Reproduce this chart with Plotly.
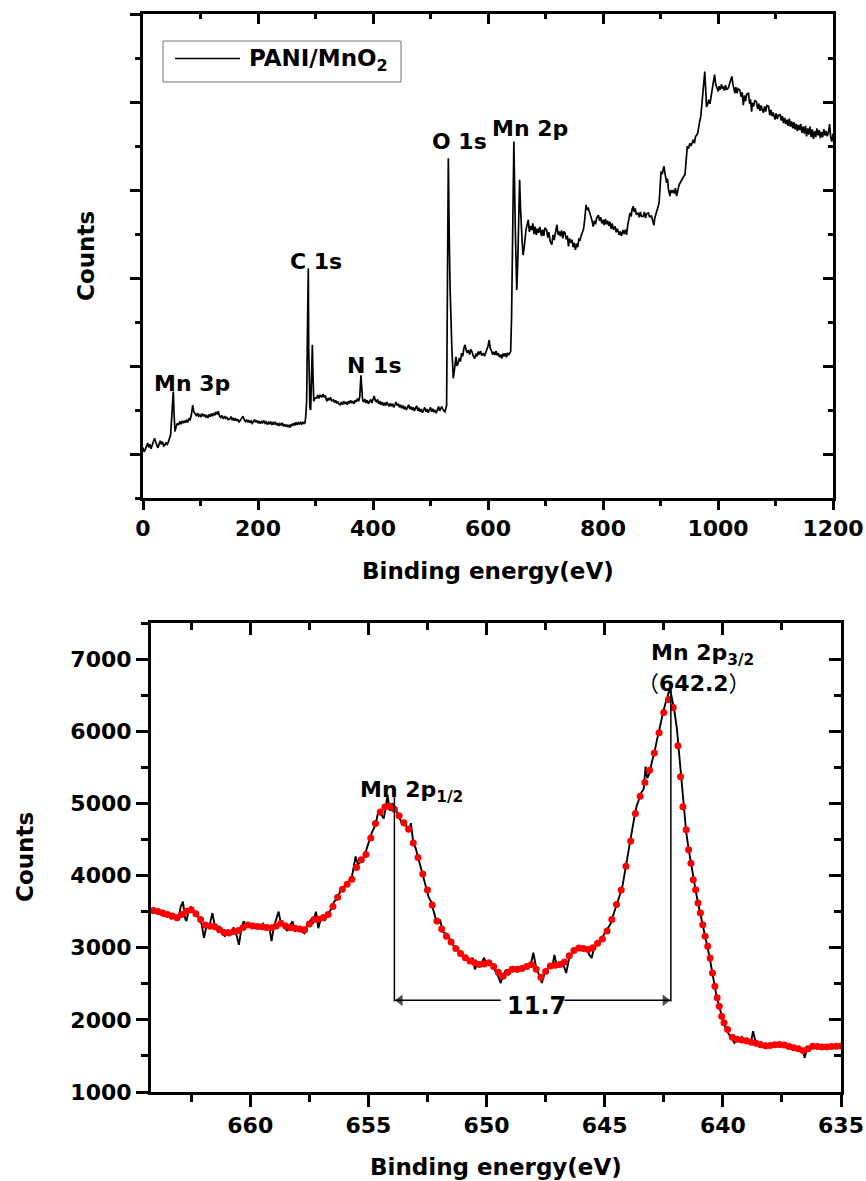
import plotly.graph_objects as go

# ---------------- survey spectrum (top panel), counts in arbitrary units ----------------
survey_ev = [
    0, 2, 4, 6, 8, 10, 12, 14, 16, 18,
    20, 22, 24, 26, 28, 30, 32, 34, 36, 38,
    40, 42, 44, 46, 48, 50, 52.7, 54, 55.6, 57.5,
    59.7, 62, 64, 66, 68, 70, 72, 74, 76, 78,
    80, 82, 84, 86.4, 88.5, 90.5, 93, 95, 97, 99,
    101, 103, 105, 107, 109, 111, 113, 115, 117, 119,
    121, 123, 125, 127, 129, 131, 133, 135, 137, 139.5,
    142, 144, 146, 148, 151, 153, 155, 157, 159, 161,
    163, 165, 167, 169, 171, 174, 176, 178, 180, 182,
    184, 186, 188, 190, 192, 194, 196, 198, 200, 202,
    204, 206, 208, 210, 212, 214, 216, 218, 220, 222,
    224, 226, 228, 230, 232, 234, 236, 238, 240, 242,
    244, 246, 248, 250, 252, 254, 256, 258, 260, 262,
    264, 266, 268, 270, 272, 274, 276, 278, 280, 281.7,
    283, 284.6, 286, 287.5, 288.2, 289, 290.3, 291.6, 293, 294.5,
    295.8, 297, 299, 302, 304, 306, 308, 311, 313, 315,
    317, 319.8, 322, 324, 326, 328, 331.4, 333, 335, 337,
    339, 341, 343, 345, 347, 349, 351, 353, 355, 357,
    359, 361, 363, 365, 367, 369, 371, 373, 375, 377,
    379, 380.5, 382, 384, 386, 388, 390, 392, 394, 396,
    398, 400, 402, 404, 406, 408, 410, 412, 414, 416,
    418, 420, 422, 424, 426, 428, 430, 432, 434, 436,
    438, 440, 442, 444, 446, 448, 450, 452, 454, 456,
    458, 460, 462, 464, 466, 468, 470, 472, 474, 476,
    478, 480, 482, 484, 486, 488, 490, 492, 494, 496,
    498, 500, 502, 504, 506, 508, 510, 512, 514, 516,
    519.4, 522, 525, 528, 529, 531, 532.5, 534, 537, 539.6,
    541.5, 544.3, 546, 548, 550, 552, 554, 556, 558, 560,
    562, 564, 566, 568, 570, 572, 574, 577, 579, 581,
    583, 585, 587, 589, 592, 594, 596, 598, 600, 602,
    604, 606.5, 608, 610, 612, 614, 616, 618, 620, 622,
    624, 626, 628, 630, 632, 634, 636, 638, 639.4, 641,
    643, 645, 647.5, 650, 652, 653.5, 655, 656.5, 658, 659.5,
    661, 663, 666, 668, 670, 672, 674, 676, 678, 680,
    682, 684, 686, 688, 690, 693, 695, 697, 699, 702,
    704, 706, 708, 711, 713, 715, 717, 719.8, 722, 724,
    725.6, 728, 730, 732, 734, 736, 738, 740, 742, 744,
    746, 748, 750, 752, 754, 756, 758, 760, 762, 764,
    766, 768, 770.5, 772, 774, 777, 779, 781, 783, 785,
    787, 789, 792, 794, 796, 798, 800.5, 802, 804, 806,
    808, 810, 812, 814, 816, 818, 821, 823, 825, 828,
    830, 832, 835, 837, 839, 841, 843, 845, 847, 849,
    850.5, 852.6, 854, 856, 858, 861, 863, 865, 867, 870,
    872, 874, 876, 879, 881, 884, 886, 888.6, 890, 893,
    895, 897.5, 899, 901, 903, 904.5, 906, 908, 910.7, 912,
    914, 916.5, 918, 920, 922, 924, 926, 928, 930, 932,
    934, 936, 938, 940, 942.6, 944, 946.6, 949, 951, 953,
    955, 957, 959, 961, 963, 965, 967, 970, 972, 973,
    975, 977, 978.5, 980, 982, 984, 986, 987, 989, 991,
    992.5, 994, 996, 998, 1000.5, 1002, 1004, 1006, 1008, 1009,
    1011, 1013, 1015, 1018, 1020, 1022, 1024, 1026, 1027.5, 1029.5,
    1031, 1033, 1035, 1038, 1040, 1042, 1044, 1046, 1048, 1050,
    1053, 1055, 1056.5, 1058.5, 1060, 1062, 1064, 1067, 1069, 1071,
    1073, 1075, 1077, 1079, 1081, 1083, 1085, 1088, 1090, 1092,
    1094, 1096, 1099, 1101, 1103, 1105, 1108, 1110, 1112, 1114,
    1116, 1118, 1120, 1122, 1124, 1126, 1128, 1130, 1132, 1134,
    1136, 1138, 1140, 1142, 1144, 1146, 1148, 1150, 1152, 1154,
    1156, 1158, 1160, 1162, 1164, 1166, 1168, 1170, 1172, 1174,
    1176, 1178, 1180, 1182, 1184, 1186, 1188, 1190, 1192, 1194,
    1196, 1198, 1200,
]
survey_counts = [
    1.15, 1.05, 1.10, 1.20, 1.25, 1.15, 1.22, 1.12, 1.18, 1.28,
    1.36, 1.25, 1.20, 1.14, 1.24, 1.30, 1.22, 1.28, 1.18, 1.20,
    1.26, 1.22, 1.27, 1.35, 1.43, 1.85, 2.42, 1.90, 1.51, 1.62,
    1.70, 1.66, 1.74, 1.68, 1.75, 1.70, 1.76, 1.71, 1.78, 1.72,
    1.80, 1.78, 1.88, 2.11, 1.95, 1.92, 1.86, 1.93, 1.86, 1.89,
    1.84, 1.92, 1.86, 1.90, 1.83, 1.87, 1.82, 1.90, 1.85, 1.92,
    1.86, 1.93, 1.88, 1.96, 1.90, 1.97, 1.86, 1.83, 1.88, 1.80,
    1.86, 1.80, 1.84, 1.78, 1.80, 1.85, 1.77, 1.82, 1.76, 1.81,
    1.75, 1.79, 1.73, 1.76, 1.80, 1.86, 1.78, 1.74, 1.78, 1.72,
    1.77, 1.71, 1.75, 1.70, 1.74, 1.78, 1.72, 1.76, 1.70, 1.75,
    1.69, 1.74, 1.71, 1.76, 1.70, 1.73, 1.67, 1.72, 1.68, 1.74,
    1.66, 1.71, 1.67, 1.73, 1.66, 1.70, 1.64, 1.69, 1.65, 1.71,
    1.63, 1.68, 1.62, 1.67, 1.61, 1.66, 1.60, 1.68, 1.64, 1.70,
    1.65, 1.72, 1.66, 1.71, 1.67, 1.73, 1.68, 1.72, 1.69, 1.71,
    1.85, 2.19, 3.80, 5.22, 3.40, 2.15, 2.05, 2.00, 2.60, 3.48,
    2.70, 2.20, 2.28, 2.27, 2.34, 2.26, 2.33, 2.30, 2.36, 2.29,
    2.33, 2.20, 2.27, 2.22, 2.29, 2.21, 2.23, 2.17, 2.22, 2.15,
    2.19, 2.13, 2.12, 2.18, 2.12, 2.20, 2.14, 2.18, 2.12, 2.20,
    2.15, 2.22, 2.16, 2.20, 2.14, 2.22, 2.18, 2.26, 2.20, 2.30,
    2.79, 2.40, 2.22, 2.18, 2.25, 2.16, 2.22, 2.14, 2.20, 2.24,
    2.16, 2.26, 2.32, 2.22, 2.18, 2.24, 2.14, 2.20, 2.12, 2.18,
    2.10, 2.16, 2.10, 2.18, 2.12, 2.08, 2.15, 2.09, 2.14, 2.06,
    2.12, 2.18, 2.10, 2.14, 2.06, 2.12, 2.04, 2.10, 2.02, 2.08,
    2.00, 2.06, 2.12, 2.02, 2.08, 2.00, 2.06, 1.98, 2.04, 2.10,
    1.98, 2.05, 1.96, 2.02, 1.94, 2.00, 2.06, 1.96, 2.02, 1.94,
    2.00, 2.06, 1.96, 2.03, 1.95, 2.00, 1.93, 2.02, 2.08, 1.98,
    2.08, 2.00, 1.96, 2.10, 3.82, 7.72, 6.00, 4.80, 3.46, 2.72,
    2.90, 3.21, 3.00, 3.06, 3.18, 3.10, 3.29, 3.22, 3.40, 3.48,
    3.36, 3.30, 3.36, 3.26, 3.38, 3.33, 3.24, 3.17, 3.28, 3.22,
    3.33, 3.26, 3.34, 3.24, 3.29, 3.22, 3.30, 3.36, 3.45, 3.59,
    3.40, 3.33, 3.26, 3.32, 3.25, 3.34, 3.24, 3.29, 3.20, 3.26,
    3.17, 3.28, 3.22, 3.29, 3.20, 3.30, 3.25, 3.30, 3.33, 4.12,
    6.39, 8.10, 6.10, 4.73, 5.49, 6.50, 7.23, 6.60, 6.09, 5.80,
    5.52, 5.70, 6.09, 6.20, 6.32, 6.05, 6.18, 6.09, 6.24, 6.00,
    6.17, 5.98, 6.12, 6.02, 6.16, 5.95, 6.10, 5.96, 6.14, 6.09,
    5.92, 6.04, 5.84, 5.76, 5.98, 5.86, 6.05, 6.21, 5.98, 6.06,
    5.95, 6.08, 5.90, 6.06, 6.02, 5.88, 5.96, 5.72, 5.90, 5.80,
    5.87, 5.70, 5.80, 5.64, 5.78, 5.70, 5.88, 5.86, 5.96, 6.05,
    6.10, 6.30, 6.66, 6.55, 6.60, 6.48, 6.40, 6.30, 6.17, 6.30,
    6.22, 6.36, 6.43, 6.30, 6.38, 6.24, 6.32, 6.20, 6.34, 6.22,
    6.30, 6.18, 6.28, 6.12, 6.24, 6.10, 6.17, 6.04, 6.12, 5.98,
    6.06, 5.96, 6.09, 6.00, 6.10, 5.98, 6.20, 6.36, 6.48, 6.40,
    6.56, 6.63, 6.50, 6.58, 6.44, 6.48, 6.38, 6.50, 6.40, 6.40,
    6.50, 6.36, 6.46, 6.48, 6.38, 6.42, 6.30, 6.20, 6.36, 6.48,
    6.58, 6.70, 7.00, 7.42, 7.36, 7.48, 7.54, 7.36, 7.16, 7.26,
    7.00, 6.86, 7.00, 6.94, 7.00, 6.92, 7.04, 6.86, 7.02, 7.10,
    7.16, 7.22, 7.26, 7.30, 7.35, 7.60, 7.99, 7.96, 8.06, 8.00,
    8.10, 8.14, 8.06, 8.22, 8.25, 8.30, 8.48, 8.67, 8.95, 9.12,
    9.40, 9.69, 9.30, 8.89, 8.95, 9.05, 8.96, 9.05, 9.20, 9.35,
    9.50, 9.62, 9.40, 9.30, 9.24, 9.36, 9.28, 9.40, 9.30, 9.35,
    9.26, 9.38, 9.28, 9.32, 9.42, 9.50, 9.58, 9.40, 9.30, 9.20,
    9.34, 9.20, 9.30, 9.27, 9.12, 9.22, 8.93, 9.15, 9.02, 9.18,
    9.20, 8.96, 9.06, 8.78, 8.98, 8.90, 9.04, 9.00, 8.84, 8.96,
    8.80, 8.92, 8.82, 8.76, 8.90, 8.78, 8.92, 8.90, 8.70, 8.82,
    8.68, 8.76, 8.60, 8.74, 8.62, 8.70, 8.71, 8.58, 8.68, 8.52,
    8.64, 8.50, 8.60, 8.46, 8.62, 8.44, 8.56, 8.40, 8.54, 8.38,
    8.50, 8.34, 8.48, 8.36, 8.50, 8.30, 8.44, 8.28, 8.46, 8.22,
    8.40, 8.26, 8.44, 8.20, 8.38, 8.16, 8.34, 8.20, 8.40, 8.24,
    8.36, 8.18, 8.32, 8.20, 8.38, 8.24, 8.34, 8.22, 8.30, 8.50,
    8.20, 8.10, 8.28,
]

# ---------------- Mn 2p high-resolution spectrum (bottom panel) ----------------
mn2p_raw_ev = [
    664.10, 663.95, 663.80, 663.65, 663.50, 663.35, 663.20, 663.05, 662.95, 662.85,
    662.75, 662.70, 662.60, 662.50, 662.40, 662.30, 662.20, 662.05, 661.96, 661.85,
    661.75, 661.60, 661.50, 661.40, 661.30, 661.20, 661.07, 660.95, 660.85, 660.70,
    660.60, 660.48, 660.38, 660.28, 660.15, 660.05, 659.95, 659.85, 659.70, 659.60,
    659.45, 659.35, 659.20, 659.10, 659.00, 658.90, 658.80, 658.70, 658.60, 658.45,
    658.35, 658.21, 658.10, 657.98, 657.85, 657.71, 657.60, 657.45, 657.35, 657.22,
    657.12, 657.00, 656.85, 656.72, 656.60, 656.45, 656.30, 656.15, 656.00, 655.85,
    655.70, 655.54, 655.44, 655.30, 655.15, 655.00, 654.85, 654.70, 654.60, 654.45,
    654.35, 654.25, 654.19, 654.10, 654.00, 653.90, 653.80, 653.70, 653.55, 653.40,
    653.28, 653.20, 653.10, 653.00, 652.90, 652.80, 652.67, 652.55, 652.45, 652.35,
    652.25, 652.15, 652.05, 651.97, 651.85, 651.75, 651.60, 651.45, 651.30, 651.15,
    651.00, 650.85, 650.70, 650.59, 650.49, 650.40, 650.30, 650.20, 650.10, 650.00,
    649.90, 649.80, 649.70, 649.60, 649.50, 649.40, 649.30, 649.20, 649.10, 649.00,
    648.90, 648.80, 648.70, 648.60, 648.45, 648.30, 648.15, 648.02, 647.90, 647.80,
    647.66, 647.55, 647.45, 647.33, 647.22, 647.13, 647.02, 646.90, 646.75, 646.63,
    646.50, 646.40, 646.30, 646.15, 646.04, 645.90, 645.75, 645.65, 645.55, 645.45,
    645.35, 645.25, 645.10, 645.00, 644.90, 644.75, 644.65, 644.55, 644.45, 644.35,
    644.25, 644.15, 644.05, 643.95, 643.85, 643.75, 643.65, 643.55, 643.45, 643.35,
    643.27, 643.20, 643.10, 643.00, 642.90, 642.80, 642.70, 642.60, 642.50, 642.40,
    642.30, 642.24, 642.15, 642.05, 641.95, 641.85, 641.75, 641.65, 641.55, 641.45,
    641.35, 641.25, 641.15, 641.05, 640.95, 640.85, 640.75, 640.65, 640.55, 640.45,
    640.35, 640.25, 640.15, 640.05, 639.95, 639.85, 639.75, 639.65, 639.51, 639.40,
    639.30, 639.20, 639.10, 639.00, 638.90, 638.80, 638.72, 638.62, 638.50, 638.40,
    638.30, 638.20, 638.10, 638.00, 637.90, 637.80, 637.70, 637.60, 637.50, 637.40,
    637.30, 637.20, 637.10, 637.00, 636.90, 636.80, 636.70, 636.60, 636.54, 636.45,
    636.35, 636.25, 636.15, 636.05, 635.95, 635.85, 635.75, 635.65, 635.55, 635.45,
    635.35, 635.25, 635.15, 635.05, 635.00,
]
mn2p_raw_counts = [
    3520, 3490, 3470, 3440, 3470, 3400, 3430, 3380, 3560, 3640,
    3400, 3370, 3520, 3560, 3500, 3450, 3420, 3320, 3135, 3300,
    3270, 3480, 3300, 3260, 3300, 3190, 3160, 3250, 3200, 3280,
    3200, 3040, 3250, 3365, 3300, 3340, 3270, 3330, 3300, 3270,
    3330, 3250, 3300, 3090, 3290, 3380, 3500, 3330, 3300, 3240,
    3300, 3365, 3220, 3280, 3230, 3200, 3300, 3380, 3330, 3500,
    3270, 3420, 3380, 3470, 3520, 3640, 3680, 3830, 3850, 3900,
    3980, 4264, 4150, 4200, 4290, 4440, 4600, 4700, 4860, 4840,
    4790, 4980, 5117, 4900, 5000, 4960, 4880, 4800, 4700, 4690,
    4620, 4725, 4450, 4380, 4260, 4130, 3980, 3800, 3700, 3640,
    3500, 3400, 3330, 3390, 3220, 3200, 3140, 3050, 2990, 2950,
    2880, 2840, 2800, 2860, 2700, 2790, 2740, 2800, 2860, 2760,
    2800, 2760, 2720, 2660, 2600, 2510, 2620, 2680, 2640, 2720,
    2680, 2720, 2660, 2720, 2700, 2760, 2740, 2930, 2720, 2640,
    2510, 2640, 2700, 2760, 2720, 2900, 2740, 2790, 2760, 2650,
    2860, 2920, 2960, 3000, 2990, 3000, 2980, 2900, 2858, 3000,
    3040, 3080, 3140, 3200, 3250, 3330, 3440, 3530, 3640, 3740,
    3850, 4050, 4220, 4430, 4620, 4800, 4960, 5060, 5150, 5200,
    5509, 5350, 5420, 5580, 5700, 5860, 6020, 6150, 6300, 6420,
    6520, 6592, 6450, 6280, 6050, 5700, 5300, 4920, 4600, 4370,
    4170, 3950, 3790, 3620, 3470, 3300, 3160, 3000, 2850, 2660,
    2470, 2300, 2180, 2050, 1940, 1870, 1800, 1760, 1682, 1740,
    1720, 1760, 1700, 1730, 1690, 1710, 1844, 1700, 1660, 1690,
    1640, 1660, 1620, 1650, 1640, 1670, 1650, 1680, 1640, 1660,
    1620, 1640, 1600, 1630, 1600, 1610, 1580, 1560, 1475, 1580,
    1620, 1640, 1650, 1620, 1640, 1610, 1640, 1620, 1630, 1610,
    1640, 1630, 1645, 1630, 1636,
]

mn2p_fit_ev = [
    664.10, 663.90, 663.70, 663.50, 663.30, 663.10, 662.90, 662.70, 662.50, 662.30,
    662.10, 661.90, 661.70, 661.50, 661.30, 661.10, 660.90, 660.70, 660.50, 660.30,
    660.10, 659.90, 659.70, 659.50, 659.30, 659.10, 658.90, 658.70, 658.50, 658.30,
    658.10, 657.90, 657.70, 657.50, 657.30, 657.10, 656.90, 656.70, 656.50, 656.30,
    656.10, 655.90, 655.70, 655.50, 655.30, 655.10, 654.90, 654.70, 654.50, 654.30,
    654.10, 653.90, 653.70, 653.50, 653.30, 653.10, 652.90, 652.70, 652.50, 652.30,
    652.10, 651.90, 651.70, 651.50, 651.30, 651.10, 650.90, 650.70, 650.50, 650.30,
    650.10, 649.90, 649.70, 649.50, 649.30, 649.10, 648.90, 648.70, 648.50, 648.30,
    648.10, 647.90, 647.70, 647.50, 647.30, 647.10, 646.90, 646.70, 646.50, 646.30,
    646.10, 645.90, 645.70, 645.50, 645.30, 645.10, 644.90, 644.70, 644.50, 644.30,
    644.10, 643.90, 643.70, 643.50, 643.30, 643.10, 642.90, 642.70, 642.50, 642.30,
    642.10, 641.90, 641.79, 641.69, 641.55, 641.45, 641.35, 641.25, 641.15, 641.05,
    640.95, 640.85, 640.75, 640.64, 640.54, 640.44, 640.34, 640.24, 640.15, 640.05,
    639.95, 639.80, 639.60, 639.40, 639.20, 639.00, 638.80, 638.60, 638.40, 638.20,
    638.00, 637.80, 637.60, 637.40, 637.20, 637.00, 636.80, 636.60, 636.40, 636.20,
    636.00, 635.80, 635.60, 635.40, 635.20, 635.00,
]
mn2p_fit_counts = [
    3515, 3500, 3480, 3460, 3440, 3415, 3460, 3505, 3525, 3470,
    3390, 3315, 3300, 3290, 3250, 3210, 3205, 3225, 3240, 3280,
    3315, 3300, 3295, 3290, 3280, 3275, 3300, 3340, 3300, 3275,
    3270, 3260, 3250, 3330, 3390, 3395, 3420, 3460, 3570, 3700,
    3810, 3880, 3950, 4110, 4220, 4290, 4520, 4720, 4880, 4950,
    4960, 4920, 4830, 4730, 4640, 4450, 4250, 4020, 3800, 3590,
    3370, 3260, 3160, 3080, 2990, 2920, 2860, 2815, 2790, 2766,
    2775, 2790, 2740, 2660, 2604, 2660, 2700, 2700, 2710, 2740,
    2766, 2700, 2590, 2670, 2745, 2755, 2766, 2800, 2890, 2960,
    2995, 2990, 2975, 3000, 3060, 3120, 3230, 3390, 3600, 3800,
    4130, 4480, 4860, 5100, 5290, 5460, 5700, 5980, 6260, 6440,
    6330, 5800, 5370, 4955, 4633, 4356, 4172, 3941, 3803, 3619,
    3480, 3319, 3158, 3019, 2858, 2650, 2466, 2305, 2189, 2051,
    1959, 1867, 1760, 1730, 1722, 1710, 1690, 1675, 1655, 1640,
    1645, 1655, 1660, 1650, 1630, 1615, 1600, 1570, 1600, 1635,
    1630, 1625, 1622, 1630, 1635, 1636,
]

# peak positions used for the splitting annotation
peak_2p12_ev = 653.9
peak_2p32_ev = 642.2
splitting_label = "11.7"

assert len(survey_ev) == len(survey_counts)
assert len(mn2p_raw_ev) == len(mn2p_raw_counts)
assert len(mn2p_fit_ev) == len(mn2p_fit_counts)

W, H = 866, 1181
FONT = "DejaVu Sans, Noto Sans CJK SC"


def px(x):
    return x / W


def py(y):
    return 1 - y / H


fig = go.Figure()
fig.add_trace(go.Scatter(x=survey_ev, y=survey_counts, mode="lines", name="PANI/MnO2",
                         line=dict(color="black", width=1.7), xaxis="x", yaxis="y",
                         showlegend=False))
fig.add_trace(go.Scatter(x=mn2p_raw_ev, y=mn2p_raw_counts, mode="lines", name="raw",
                         line=dict(color="black", width=1.9), xaxis="x2", yaxis="y2",
                         showlegend=False))
fig.add_trace(go.Scatter(x=mn2p_fit_ev, y=mn2p_fit_counts, mode="markers", name="smoothed",
                         marker=dict(color="#ff0000", size=7, line=dict(width=0)),
                         xaxis="x2", yaxis="y2", showlegend=False))

# arrow heads of the 11.7 eV splitting marker (x axis is reversed)
ARROW_OFFSET = 0.24
arrow_y = 2270
fig.add_trace(go.Scatter(x=[peak_2p12_ev - ARROW_OFFSET, peak_2p32_ev + ARROW_OFFSET],
                         y=[arrow_y, arrow_y], mode="markers", xaxis="x2", yaxis="y2",
                         marker=dict(symbol=["triangle-left", "triangle-right"], size=[10, 10],
                                     color="black", line=dict(width=0)),
                         showlegend=False, hoverinfo="skip"))

# empty traces so that the framing (top/right) axes are rendered
for xa, ya in [("x3", "y"), ("x", "y3"), ("x4", "y2"), ("x2", "y4")]:
    fig.add_trace(go.Scatter(x=[None], y=[None], xaxis=xa, yaxis=ya, mode="lines",
                             showlegend=False, hoverinfo="skip"))

tickfont = dict(family=FONT, size=22, color="black", weight="bold")
common = dict(showgrid=False, zeroline=False, showline=True, linecolor="black", linewidth=3,
              tickcolor="black", tickwidth=2.5, tickfont=tickfont, automargin=False)

top_x_dom = [px(143), px(833)]
top_y_dom = [py(498), py(14)]
bot_x_dom = [px(151), px(841)]
bot_y_dom = [py(1092), py(623)]


def minor(d, t0, kind, ln):
    return dict(dtick=d, tick0=t0, ticks=kind, ticklen=ln, tickwidth=2.5, tickcolor="black")


fig.update_layout(
    width=W, height=H, margin=dict(l=0, r=0, t=0, b=0, pad=0, autoexpand=False),
    paper_bgcolor="white", plot_bgcolor="white",
    font=dict(family=FONT, size=22, color="black", weight="bold"),
    showlegend=False,
    # top panel
    xaxis=dict(domain=top_x_dom, anchor="y", range=[0, 1200], tick0=0, dtick=200,
               ticks="outside", ticklen=9, minor=minor(100, 0, "outside", 5), **common),
    yaxis=dict(domain=top_y_dom, anchor="x", range=[0, 11], tick0=1, dtick=2,
               ticks="outside", ticklen=10, showticklabels=False,
               minor=minor(1, 0, "outside", 5), **common),
    xaxis3=dict(overlaying="x", side="top", anchor="y", range=[0, 1200], tick0=0, dtick=200,
                ticks="inside", ticklen=10, showticklabels=False,
                minor=minor(100, 0, "inside", 5), **common),
    yaxis3=dict(overlaying="y", side="right", anchor="x", range=[0, 11], tick0=1, dtick=2,
                ticks="inside", ticklen=10, showticklabels=False,
                minor=minor(1, 0, "inside", 5), **common),
    # bottom panel
    xaxis2=dict(domain=bot_x_dom, anchor="y2", range=[664.2, 635], tick0=635, dtick=5,
                ticks="outside", ticklen=12, minor=minor(2.5, 635, "outside", 7), **common),
    yaxis2=dict(domain=bot_y_dom, anchor="x2", range=[1000, 7500], tick0=1000, dtick=1000,
                ticks="outside", ticklen=12, minor=minor(500, 1000, "outside", 7), **common),
    xaxis4=dict(overlaying="x2", side="top", anchor="y2", range=[664.2, 635], tick0=635, dtick=5,
                ticks="inside", ticklen=12, showticklabels=False,
                minor=minor(2.5, 635, "inside", 7), **common),
    yaxis4=dict(overlaying="y2", side="right", anchor="x2", range=[1000, 7500], tick0=1000,
                dtick=1000, ticks="inside", ticklen=12, showticklabels=False,
                minor=minor(500, 1000, "inside", 7), **common),
)

ann = []
title_font = dict(family=FONT, size=23, color="black", weight="bold")
# axis titles
ann.append(dict(text="Binding energy(eV)", xref="paper", yref="paper", x=px(488), y=py(571),
                showarrow=False, font=title_font, xanchor="center", yanchor="middle"))
ann.append(dict(text="Binding energy(eV)", xref="paper", yref="paper", x=px(496), y=py(1167),
                showarrow=False, font=title_font, xanchor="center", yanchor="middle"))
ann.append(dict(text="Counts", xref="paper", yref="paper", x=px(86), y=py(256), textangle=-90,
                showarrow=False, font=title_font, xanchor="center", yanchor="middle"))
ann.append(dict(text="Counts", xref="paper", yref="paper", x=px(25), y=py(857), textangle=-90,
                showarrow=False, font=title_font, xanchor="center", yanchor="middle"))

# survey peak labels
lab_font = dict(family=FONT, size=22, color="black", weight="bold")
for txt, xv, yv in [("Mn 3p", 84.7, 2.61), ("C 1s", 301, 5.37), ("N 1s", 401, 3.01),
                    ("O 1s", 550, 8.1), ("Mn 2p", 672.7, 8.39)]:
    ann.append(dict(text=txt, x=xv, y=yv, xref="x", yref="y", showarrow=False, font=lab_font,
                    xanchor="center", yanchor="middle"))

# legend (drawn manually to match the long sample line)
ann.append(dict(text="PANI/MnO<sub>2</sub>", xref="paper", yref="paper", x=px(247), y=py(60),
                showarrow=False, font=dict(family=FONT, size=23, color="black", weight="bold"),
                xanchor="left", yanchor="middle"))

# Mn 2p labels
ann.append(dict(text="Mn 2p<sub>1/2</sub>", x=653.16, y=5170, xref="x2", yref="y2", showarrow=False,
                font=lab_font, xanchor="center", yanchor="middle"))
ann.append(dict(text="Mn 2p<sub>3/2</sub>", x=640.87, y=7060, xref="x2", yref="y2", showarrow=False,
                font=lab_font, xanchor="center", yanchor="middle"))
paren = "<span style='font-family:Noto Sans CJK SC;font-weight:normal'>{}</span>"
ann.append(dict(text=paren.format("（") + "642.2" + paren.format("）"), x=641.2, y=6690,
                xref="x2", yref="y2", showarrow=False, font=lab_font,
                xanchor="center", yanchor="middle"))
ann.append(dict(text=splitting_label, x=647.9, y=2190, xref="x2", yref="y2", showarrow=False,
                font=dict(family=FONT, size=24, color="black", weight="bold"),
                xanchor="center", yanchor="middle"))

fig.update_layout(annotations=ann)

shapes = [
    # legend frame and sample line
    dict(type="rect", xref="paper", yref="paper", x0=px(163), x1=px(401), y0=py(82), y1=py(41),
         line=dict(color="#707070", width=1), fillcolor="rgba(0,0,0,0)"),
    dict(type="line", xref="paper", yref="paper", x0=px(175), x1=px(240), y0=py(58.5), y1=py(58.5),
         line=dict(color="black", width=1.5)),
    # vertical guide lines from the peaks
    dict(type="line", xref="x2", yref="y2", x0=peak_2p12_ev, x1=peak_2p12_ev, y0=arrow_y - 15, y1=5100,
         line=dict(color="black", width=1.5)),
    dict(type="line", xref="x2", yref="y2", x0=peak_2p32_ev, x1=peak_2p32_ev, y0=arrow_y - 15, y1=6600,
         line=dict(color="black", width=1.5)),
    # horizontal double-arrow shaft, broken around the label
    dict(type="line", xref="x2", yref="y2", x0=peak_2p12_ev, x1=649.4, y0=arrow_y, y1=arrow_y,
         line=dict(color="black", width=1.5)),
    dict(type="line", xref="x2", yref="y2", x0=646.7, x1=peak_2p32_ev, y0=arrow_y, y1=arrow_y,
         line=dict(color="black", width=1.5)),
]
fig.update_layout(shapes=shapes)

fig.write_html(
    "out.html",
    config={"displayModeBar": False},
    post_script="document.documentElement.style.overflow='hidden';"
                "document.body.style.margin='0';document.body.style.overflow='hidden';",
)
